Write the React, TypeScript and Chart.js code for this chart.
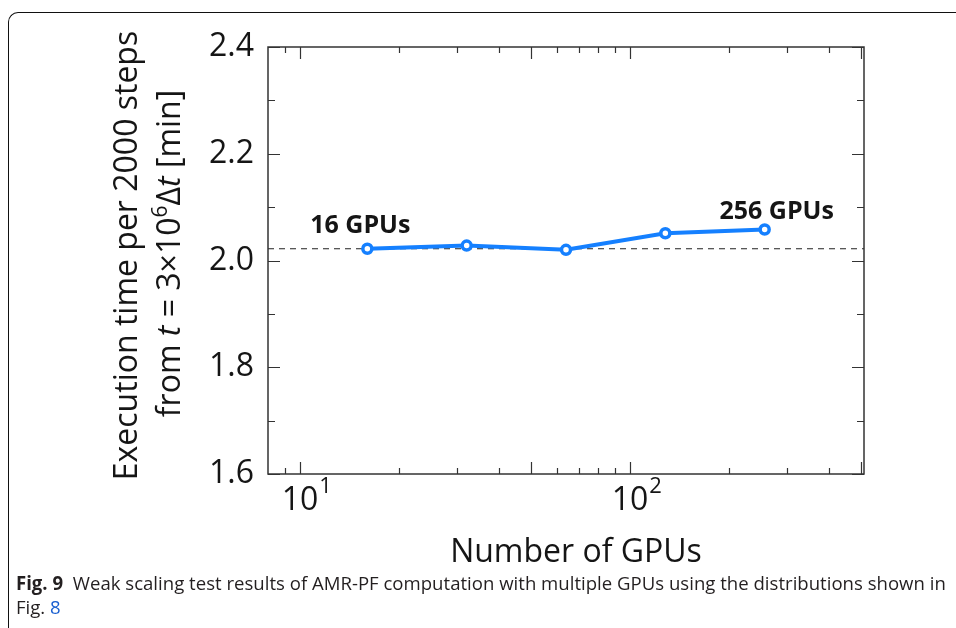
import React, { useEffect, useRef } from 'react';
import { Chart, registerables } from 'chart.js';

Chart.register(...registerables);

// ---- data ----
const gpuCounts = [16, 32, 64, 128, 256];
const execTimes = [2.022, 2.028, 2.02, 2.051, 2.058];
const referenceTime = 2.022;
const xRange = [8, 512];
const yRange = [1.6, 2.4];
const yMajorTicks = [1.6, 1.8, 2.0, 2.2, 2.4];
const yMinorTicks = [1.7, 1.9, 2.1, 2.3];
const xMajorTicks = [10, 50, 100, 500];
const xMinorTicks = [9, 20, 30, 40, 60, 70, 80, 90, 200, 300, 400];
const xLabelTicks = [10, 100];
const xLabelBases = ['10', '10'];
const xLabelExps = ['1', '2'];
const pointLabels = ['16 GPUs', '256 GPUs'];
const pointLabelIndex = [0, 4];
const xTitle = 'Number of GPUs';
const yTitleLine1 = 'Execution time per 2000 steps';
const captionBold = 'Fig. 9';
const captionText = 'Weak scaling test results of AMR-PF computation with multiple GPUs using the distributions shown in';
const captionLine2 = 'Fig. ';
const captionLink = '8';

const BLUE = '#1580FF';
const TEXT = '#151515';
const AXIS = '#333333';
const FONT = '"Open Sans", "Noto Sans", sans-serif';

// offsets of the annotation labels from their points (style)
const labelOffsets = [
  { dx: -7, dy: -16 },
  { dx: 12, dy: -11 },
];

export default function App() {
  const canvasRef = useRef<HTMLCanvasElement | null>(null);

  useEffect(() => {
    const canvas = canvasRef.current;
    if (!canvas) return;

    const framePlugin = {
      id: 'frameAndText',
      afterDraw(chart: any) {
        const { ctx, chartArea: a, scales } = chart;
        const xs = scales.x;
        const ys = scales.y;
        ctx.save();
        // frame
        ctx.strokeStyle = AXIS;
        ctx.lineWidth = 1.5;
        ctx.strokeRect(a.left, a.top, a.right - a.left, a.bottom - a.top);
        // ticks
        ctx.lineWidth = 1.2;
        ctx.beginPath();
        const xt = [
          ...xMajorTicks.map((v) => [v, 12]),
          ...xMinorTicks.map((v) => [v, 6]),
        ];
        xt.forEach(([v, len]) => {
          const px = Math.round(xs.getPixelForValue(v)) + 0.5;
          ctx.moveTo(px, a.bottom);
          ctx.lineTo(px, a.bottom - len);
          ctx.moveTo(px, a.top);
          ctx.lineTo(px, a.top + len);
        });
        const yt = [
          ...yMajorTicks.map((v) => [v, 12]),
          ...yMinorTicks.map((v) => [v, 7]),
        ];
        yt.forEach(([v, len]) => {
          const py = Math.round(ys.getPixelForValue(v)) + 0.5;
          ctx.moveTo(a.left, py);
          ctx.lineTo(a.left + len, py);
          ctx.moveTo(a.right, py);
          ctx.lineTo(a.right - len, py);
        });
        ctx.stroke();

        ctx.fillStyle = TEXT;
        ctx.textBaseline = 'alphabetic';
        // x tick labels with superscripts
        xLabelTicks.forEach((v, i) => {
          const px = xs.getPixelForValue(v);
          ctx.font = `32px ${FONT}`;
          const w = ctx.measureText(xLabelBases[i]).width;
          ctx.textAlign = 'left';
          ctx.fillText(xLabelBases[i], px - w / 2, a.bottom + 36);
          ctx.font = `22px ${FONT}`;
          ctx.fillText(xLabelExps[i], px + w / 2 + 1, a.bottom + 19);
        });

        // x title
        ctx.font = `32px ${FONT}`;
        ctx.textAlign = 'center';
        ctx.fillText(xTitle, (a.left + a.right) / 2 + 10, a.bottom + 88);

        // y title (two lines, rotated)
        const cy = (a.top + a.bottom) / 2 - 5;
        ctx.save();
        ctx.translate(137, cy);
        ctx.rotate(-Math.PI / 2);
        ctx.font = `32px ${FONT}`;
        ctx.textAlign = 'center';
        ctx.fillText(yTitleLine1, 0, 0);
        ctx.restore();

        const segs: [string, string, number][] = [
          ['from ', `32px ${FONT}`, 0],
          ['t', `italic 32px ${FONT}`, 0],
          [' = 3×10', `32px ${FONT}`, 0],
          ['6', `21px ${FONT}`, -13],
          ['Δ', `32px ${FONT}`, 0],
          ['t', `italic 32px ${FONT}`, 0],
          [' [min]', `32px ${FONT}`, 0],
        ];
        let total = 0;
        const widths = segs.map(([t, f]) => {
          ctx.font = f;
          const w = ctx.measureText(t).width;
          total += w;
          return w;
        });
        ctx.save();
        ctx.translate(180, cy - 2);
        ctx.rotate(-Math.PI / 2);
        ctx.textAlign = 'left';
        let cx = -total / 2;
        segs.forEach(([t, f, dy], i) => {
          ctx.font = f;
          ctx.fillText(t, cx, dy);
          cx += widths[i];
        });
        ctx.restore();

        // point annotations
        ctx.font = `bold 25px ${FONT}`;
        ctx.textAlign = 'center';
        pointLabels.forEach((t, i) => {
          const idx = pointLabelIndex[i];
          const px = xs.getPixelForValue(gpuCounts[idx]);
          const py = ys.getPixelForValue(execTimes[idx]);
          ctx.fillText(t, px + labelOffsets[i].dx, py + labelOffsets[i].dy);
        });
        ctx.restore();
      },
    };

    const chart = new Chart(canvas, {
      type: 'line',
      data: {
        datasets: [
          {
            data: gpuCounts.map((g, i) => ({ x: g, y: execTimes[i] })),
            borderColor: BLUE,
            borderWidth: 4,
            pointRadius: 4.5,
            pointBorderWidth: 3.5,
            pointBackgroundColor: '#ffffff',
            pointBorderColor: BLUE,
            tension: 0,
          },
          {
            data: [
              { x: xRange[0], y: referenceTime },
              { x: xRange[1], y: referenceTime },
            ],
            borderColor: '#222222',
            borderWidth: 1.2,
            borderDash: [6, 5],
            pointRadius: 0,
          },
        ],
      },
      options: {
        animation: false,
        responsive: false,
        devicePixelRatio: 1,
        layout: { padding: { left: 0, right: 92, top: 47, bottom: 0 } },
        plugins: { legend: { display: false }, tooltip: { enabled: false } },
        scales: {
          x: {
            type: 'logarithmic',
            min: xRange[0],
            max: xRange[1],
            ticks: { display: false },
            grid: { display: false },
            border: { display: false },
            afterFit: (s: any) => {
              s.height = 101;
            },
          },
          y: {
            type: 'linear',
            min: yRange[0],
            max: yRange[1],
            afterBuildTicks: (s: any) => {
              s.ticks = yMajorTicks.map((v) => ({ value: v }));
            },
            ticks: {
              callback: (v: any) => Number(v).toFixed(1),
              font: { family: FONT, size: 32 },
              color: TEXT,
              padding: 6,
            },
            grid: { display: false },
            border: { display: false },
            afterFit: (s: any) => {
              s.width = 268;
            },
          },
        },
      },
      plugins: [framePlugin],
    } as any);

    return () => chart.destroy();
  }, []);

  return (
    <div style={{ position: 'absolute', left: 0, top: 0, width: 956, height: 628, overflow: 'hidden', background: '#fff' }}>
      <div
        style={{
          position: 'absolute',
          left: 8,
          top: 12,
          width: 1100,
          height: 700,
          borderTop: '1px solid #111',
          borderLeft: '1px solid #111',
          borderTopLeftRadius: 10,
        }}
      />
      <canvas ref={canvasRef} width={956} height={575} style={{ position: 'absolute', left: 0, top: 0, width: 956, height: 575 }} />
      <div
        style={{
          position: 'absolute',
          left: 16,
          top: 571,
          fontFamily: FONT,
          fontSize: 19,
          lineHeight: '24px',
          color: '#231f20',
          whiteSpace: 'nowrap',
          transformOrigin: 'left top',
          transform: 'scaleX(0.978)',
        }}
      >
        <div>
          <b>{captionBold}</b>
          {'\u00a0\u00a0'}
          {captionText}
        </div>
        <div>
          {captionLine2}
          <span style={{ color: '#1a5fd0' }}>{captionLink}</span>
        </div>
      </div>
    </div>
  );
}
